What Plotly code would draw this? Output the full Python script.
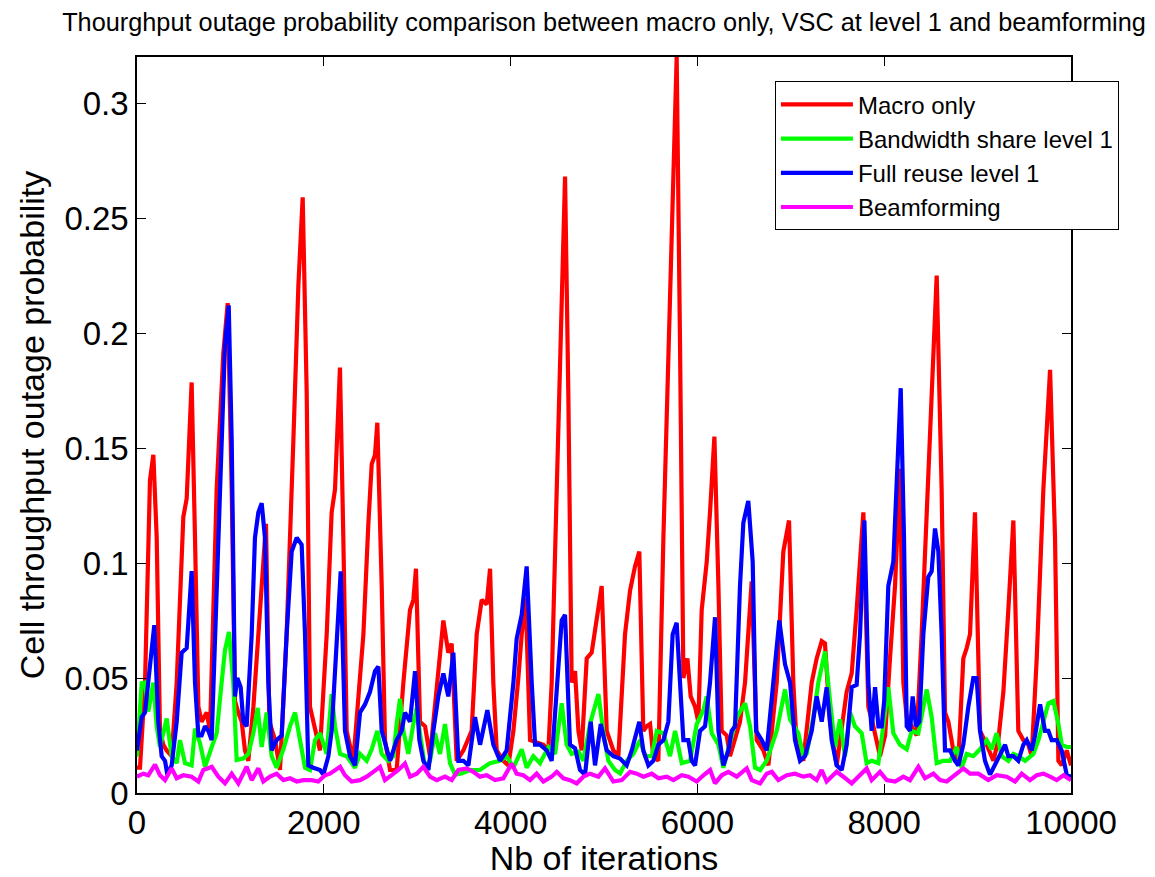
import plotly.graph_objects as go

# ---------------- data ----------------
macro_x = [0, 32, 86, 139, 175, 211, 246, 282, 318, 371, 425, 496, 532, 585, 621, 657, 692, 746, 782,
           853, 924, 971, 1014, 1049, 1085, 1121, 1156, 1192, 1246, 1317, 1381, 1417, 1478, 1531, 1602,
           1674, 1728, 1774, 1817, 1852, 1888, 1924, 1959, 2031, 2084, 2120, 2173, 2209, 2245, 2316,
           2424, 2477, 2513, 2548, 2573, 2620, 2655, 2709, 2780, 2852, 2923, 2959, 2987, 3030, 3084,
           3137, 3226, 3280, 3333, 3369, 3423, 3494, 3583, 3637, 3691, 3744, 3780, 3815, 3851, 3923,
           3976, 4030, 4083, 4119, 4161, 4208, 4279, 4351, 4404, 4440, 4494, 4547, 4583, 4618, 4654,
           4690, 4726, 4761, 4815, 4868, 4922, 4975, 5029, 5100, 5154, 5225, 5279, 5332, 5378, 5421,
           5457, 5493, 5528, 5582, 5636, 5689, 5743, 5778, 5814, 5850, 5893, 5928, 5975, 6010, 6046,
           6100, 6135, 6182, 6225, 6260, 6314, 6349, 6456, 6510, 6581, 6635, 6706, 6760, 6849, 6920,
           6981, 7027, 7063, 7134, 7224, 7277, 7331, 7366, 7420, 7491, 7598, 7652, 7705, 7777, 7830,
           7884, 7955, 8010, 8062, 8116, 8169, 8205, 8241, 8294, 8348, 8401, 8455, 8508, 8562, 8615,
           8651, 8687, 8740, 8794, 8847, 8883, 8919, 8972, 9026, 9097, 9169, 9222, 9276, 9329, 9383,
           9436, 9490, 9543, 9579, 9633, 9704, 9776, 9829, 9865, 9900, 9954, 10000]
macro_y = [0.011, 0.011, 0.048, 0.136, 0.147, 0.111, 0.027, 0.021, 0.0185, 0.016, 0.048, 0.12, 0.128,
           0.1785, 0.111, 0.0375, 0.031, 0.035, 0.027, 0.132, 0.191, 0.213, 0.132, 0.040, 0.035, 0.031,
           0.0185, 0.014, 0.0375, 0.0796, 0.117, 0.031, 0.023, 0.010, 0.069, 0.153, 0.221, 0.259, 0.174,
           0.0375, 0.031, 0.023, 0.0185, 0.069, 0.122, 0.132, 0.185, 0.111, 0.027, 0.014, 0.069, 0.117,
           0.143, 0.147, 0.161, 0.090, 0.023, 0.010, 0.010, 0.048, 0.0796, 0.084, 0.0975, 0.031, 0.029,
           0.016, 0.052, 0.075, 0.061, 0.065, 0.014, 0.0185, 0.027, 0.069, 0.084, 0.082, 0.0975, 0.048,
           0.0185, 0.014, 0.012, 0.027, 0.050, 0.069, 0.085, 0.023, 0.022, 0.021, 0.0185, 0.048, 0.132,
           0.216, 0.268, 0.174, 0.048, 0.053, 0.027, 0.0185, 0.0585, 0.061, 0.075, 0.090, 0.027, 0.0185,
           0.016, 0.069, 0.088, 0.0985, 0.105, 0.027, 0.029, 0.030, 0.016, 0.014, 0.111, 0.195, 0.28,
           0.32, 0.195, 0.050, 0.0585, 0.042, 0.0375, 0.031, 0.0796, 0.1006, 0.122, 0.155, 0.090, 0.027,
           0.025, 0.016, 0.031, 0.048, 0.092, 0.023, 0.0185, 0.012, 0.048, 0.105, 0.1185, 0.048, 0.021,
           0.014, 0.048, 0.0585, 0.066, 0.065, 0.031, 0.012, 0.044, 0.052, 0.0796, 0.122, 0.0375, 0.029,
           0.016, 0.025, 0.0585, 0.090, 0.141, 0.048, 0.033, 0.029, 0.025, 0.069, 0.122, 0.174, 0.225,
           0.132, 0.035, 0.031, 0.0185, 0.014, 0.0585, 0.063, 0.069, 0.122, 0.027, 0.021, 0.014, 0.023,
           0.044, 0.0796, 0.1185, 0.027, 0.023, 0.021, 0.016, 0.0585, 0.132, 0.184, 0.111, 0.014, 0.012,
           0.0185, 0.012]

bw_x = [0, 50, 86, 121, 175, 211, 246, 318, 371, 425, 460, 514, 585, 621, 675, 728, 800, 853, 906, 942,
        985, 1031, 1067, 1138, 1192, 1246, 1292, 1335, 1388, 1442, 1495, 1567, 1638, 1692, 1745, 1799,
        1852, 1906, 1959, 2031, 2084, 2120, 2174, 2245, 2334, 2388, 2459, 2513, 2573, 2620, 2691, 2745,
        2780, 2816, 2852, 2905, 2959, 2995, 3030, 3084, 3137, 3191, 3244, 3298, 3351, 3405, 3476, 3565,
        3672, 3779, 3886, 3958, 4030, 4119, 4172, 4244, 4315, 4405, 4476, 4547, 4600, 4654, 4726, 4779,
        4850, 4940, 4994, 5047, 5118, 5172, 5243, 5315, 5386, 5440, 5511, 5565, 5636, 5707, 5761, 5832,
        5921, 5993, 6064, 6100, 6154, 6225, 6278, 6350, 6421, 6510, 6564, 6617, 6671, 6742, 6849, 6938,
        6992, 7081, 7135, 7170, 7241, 7295, 7366, 7420, 7473, 7527, 7580, 7634, 7687, 7759, 7812, 7866,
        7937, 7990, 8044, 8098, 8169, 8241, 8294, 8365, 8419, 8455, 8508, 8562, 8633, 8705, 8776, 8829,
        8883, 8954, 9026, 9097, 9151, 9204, 9258, 9329, 9383, 9436, 9508, 9597, 9651, 9705, 9758, 9812,
        9865, 9901, 9954, 10000]
bw_y = [0.0158, 0.0477, 0.048, 0.0354, 0.048, 0.029, 0.020, 0.0324, 0.016, 0.013, 0.023, 0.013, 0.012,
        0.028, 0.0216, 0.0114, 0.020, 0.026, 0.048, 0.062, 0.070, 0.048, 0.0144, 0.015, 0.017, 0.026,
        0.037, 0.020, 0.035, 0.016, 0.011, 0.019, 0.029, 0.035, 0.023, 0.011, 0.010, 0.023, 0.026, 0.017,
        0.043, 0.029, 0.017, 0.016, 0.011, 0.017, 0.014, 0.019, 0.027, 0.017, 0.014, 0.016, 0.030, 0.041,
        0.027, 0.017, 0.030, 0.037, 0.026, 0.011, 0.014, 0.026, 0.017, 0.030, 0.013, 0.008, 0.0085, 0.010,
        0.010, 0.013, 0.014, 0.016, 0.011, 0.019, 0.011, 0.016, 0.013, 0.020, 0.017, 0.039, 0.021, 0.017,
        0.018, 0.014, 0.030, 0.043, 0.026, 0.014, 0.010, 0.0085, 0.014, 0.017, 0.023, 0.016, 0.016, 0.027,
        0.026, 0.016, 0.027, 0.013, 0.014, 0.030, 0.036, 0.042, 0.026, 0.021, 0.011, 0.023, 0.033, 0.039,
        0.029, 0.011, 0.010, 0.014, 0.027, 0.045, 0.032, 0.026, 0.016, 0.017, 0.033, 0.048, 0.0615, 0.040,
        0.020, 0.032, 0.016, 0.035, 0.029, 0.026, 0.013, 0.014, 0.013, 0.029, 0.046, 0.026, 0.021, 0.019,
        0.027, 0.026, 0.039, 0.045, 0.033, 0.013, 0.014, 0.014, 0.020, 0.011, 0.017, 0.016, 0.019, 0.023,
        0.019, 0.026, 0.016, 0.014, 0.017, 0.016, 0.014, 0.017, 0.023, 0.032, 0.039, 0.040, 0.030, 0.021,
        0.020, 0.020]

fr_x = [0, 50, 86, 121, 157, 185, 228, 264, 300, 325, 371, 425, 478, 532, 585, 621, 657, 692, 728, 764,
        799, 853, 906, 942, 982, 1014, 1049, 1074, 1110, 1138, 1174, 1228, 1263, 1299, 1335, 1370, 1406,
        1442, 1495, 1549, 1602, 1656, 1710, 1763, 1799, 1834, 1888, 1959, 1995, 2049, 2084, 2138, 2181,
        2227, 2281, 2334, 2388, 2441, 2495, 2548, 2584, 2620, 2673, 2709, 2780, 2834, 2869, 2923, 2977,
        3023, 3066, 3120, 3173, 3226, 3280, 3333, 3387, 3441, 3494, 3548, 3619, 3673, 3751, 3815, 3887,
        3958, 4030, 4065, 4119, 4172, 4226, 4262, 4315, 4387, 4440, 4494, 4547, 4583, 4636, 4690, 4743,
        4797, 4858, 4904, 4965, 5029, 5100, 5172, 5243, 5297, 5350, 5378, 5421, 5475, 5528, 5582, 5636,
        5689, 5735, 5778, 5814, 5850, 5903, 5939, 5975, 6028, 6082, 6135, 6189, 6225, 6278, 6332, 6367,
        6403, 6456, 6492, 6545, 6592, 6628, 6688, 6742, 6813, 6877, 6938, 6992, 7045, 7099, 7152, 7224,
        7277, 7331, 7384, 7438, 7491, 7545, 7598, 7652, 7705, 7741, 7788, 7830, 7866, 7902, 7938, 7973,
        8000, 8044, 8098, 8134, 8177, 8212, 8241, 8276, 8305, 8340, 8376, 8419, 8472, 8508, 8544, 8580,
        8615, 8651, 8705, 8758, 8794, 8847, 8901, 8954, 8990, 9026, 9079, 9133, 9186, 9240, 9294, 9329,
        9383, 9436, 9490, 9526, 9579, 9615, 9669, 9722, 9758, 9793, 9847, 9900, 9954, 10000]
fr_y = [0.0185, 0.033, 0.035, 0.048, 0.065, 0.073, 0.031, 0.016, 0.014, 0.008, 0.012, 0.031, 0.061,
        0.063, 0.0965, 0.048, 0.025, 0.025, 0.029, 0.027, 0.023, 0.090, 0.164, 0.195, 0.212, 0.153, 0.042,
        0.050, 0.046, 0.031, 0.029, 0.069, 0.111, 0.122, 0.126, 0.111, 0.048, 0.0185, 0.023, 0.025, 0.069,
        0.105, 0.111, 0.108, 0.069, 0.012, 0.011, 0.010, 0.008, 0.016, 0.027, 0.069, 0.0964, 0.027, 0.016,
        0.012, 0.035, 0.0385, 0.044, 0.053, 0.055, 0.027, 0.0185, 0.014, 0.023, 0.027, 0.035, 0.031, 0.053,
        0.023, 0.014, 0.010, 0.027, 0.042, 0.052, 0.042, 0.061, 0.014, 0.014, 0.012, 0.033, 0.021, 0.036,
        0.021, 0.014, 0.0185, 0.048, 0.067, 0.0775, 0.0985, 0.048, 0.021, 0.021, 0.0185, 0.014, 0.048,
        0.075, 0.0775, 0.021, 0.0195, 0.010, 0.008, 0.031, 0.012, 0.030, 0.0185, 0.016, 0.015, 0.012,
        0.0185, 0.027, 0.031, 0.0185, 0.012, 0.014, 0.021, 0.023, 0.031, 0.069, 0.074, 0.048, 0.023, 0.023,
        0.014, 0.012, 0.027, 0.029, 0.048, 0.0764, 0.027, 0.012, 0.0185, 0.027, 0.029, 0.090, 0.1175,
        0.127, 0.1006, 0.027, 0.023, 0.0185, 0.048, 0.075, 0.056, 0.048, 0.023, 0.014, 0.016, 0.027, 0.042,
        0.031, 0.046, 0.023, 0.012, 0.010, 0.021, 0.046, 0.047, 0.069, 0.1185, 0.048, 0.027, 0.046, 0.029,
        0.029, 0.040, 0.090, 0.1006, 0.132, 0.176, 0.111, 0.029, 0.027, 0.042, 0.029, 0.031, 0.069, 0.094,
        0.0964, 0.115, 0.105, 0.069, 0.0185, 0.0185, 0.014, 0.012, 0.021, 0.0375, 0.050, 0.050, 0.027,
        0.014, 0.008, 0.012, 0.016, 0.021, 0.016, 0.016, 0.014, 0.021, 0.023, 0.0185, 0.025, 0.0385, 0.027,
        0.027, 0.023, 0.023, 0.0185, 0.008, 0.007]

beam_x = [0, 68, 121, 193, 246, 300, 371, 425, 496, 585, 657, 710, 800, 871, 942, 1014, 1085, 1174, 1228,
          1299, 1353, 1424, 1495, 1567, 1638, 1710, 1781, 1870, 1941, 2013, 2066, 2174, 2227, 2298, 2388,
          2459, 2530, 2602, 2655, 2727, 2798, 2869, 2923, 2995, 3066, 3137, 3209, 3298, 3369, 3441, 3530,
          3601, 3672, 3744, 3833, 3922, 4012, 4065, 4136, 4208, 4279, 4351, 4440, 4494, 4565, 4636, 4708,
          4779, 4851, 4940, 5011, 5100, 5190, 5279, 5351, 5422, 5511, 5583, 5672, 5743, 5832, 5904, 5993,
          6064, 6136, 6189, 6260, 6332, 6421, 6528, 6582, 6671, 6742, 6796, 6867, 6956, 7045, 7135, 7206,
          7277, 7330, 7384, 7491, 7563, 7652, 7723, 7812, 7866, 7955, 8027, 8116, 8205, 8276, 8366, 8437,
          8527, 8598, 8669, 8741, 8848, 8919, 9008, 9115, 9204, 9312, 9401, 9472, 9561, 9633, 9704, 9776,
          9847, 9919, 10000]
beam_y = [0.0071, 0.0084, 0.0077, 0.0123, 0.0077, 0.0056, 0.0107, 0.0064, 0.0077, 0.0071, 0.005, 0.0100,
          0.0114, 0.0071, 0.0042, 0.0084, 0.0042, 0.0114, 0.0056, 0.0107, 0.0050, 0.0071, 0.0084, 0.0056,
          0.0064, 0.005, 0.0056, 0.0056, 0.005, 0.0077, 0.0084, 0.0114, 0.0077, 0.005, 0.0056, 0.0071,
          0.0092, 0.0114, 0.0056, 0.0077, 0.0100, 0.0128, 0.0071, 0.0084, 0.0114, 0.0071, 0.0056, 0.0071,
          0.0056, 0.0100, 0.0107, 0.0092, 0.0071, 0.0077, 0.0056, 0.0064, 0.0128, 0.0084, 0.0077, 0.0056,
          0.0084, 0.005, 0.0071, 0.0092, 0.0064, 0.0056, 0.0042, 0.0071, 0.0084, 0.0071, 0.0107, 0.005,
          0.0056, 0.0092, 0.0084, 0.0071, 0.0084, 0.0064, 0.0071, 0.0056, 0.0077, 0.0071, 0.005, 0.0077,
          0.0100, 0.0042, 0.0077, 0.0092, 0.0071, 0.0107, 0.0056, 0.0042, 0.0084, 0.0092, 0.0056, 0.0077,
          0.0084, 0.0071, 0.0077, 0.0056, 0.0100, 0.005, 0.0092, 0.0071, 0.0042, 0.0071, 0.0107, 0.0056,
          0.0092, 0.0056, 0.005, 0.0071, 0.0056, 0.0114, 0.0064, 0.0084, 0.0056, 0.005, 0.0071, 0.0107,
          0.0084, 0.0084, 0.0056, 0.0077, 0.0071, 0.005, 0.0084, 0.0056, 0.0077, 0.0084, 0.0071, 0.0056,
          0.0077, 0.0056]

series_names = ["Macro only", "Bandwidth share level 1", "Full reuse level 1", "Beamforming"]
series_colors = ["#ff0000", "#00ff00", "#0000ff", "#ff00ff"]

x_tick_vals = [0, 2000, 4000, 6000, 8000, 10000]
x_tick_text = ["0", "2000", "4000", "6000", "8000", "10000"]
y_tick_vals = [0, 0.05, 0.1, 0.15, 0.2, 0.25, 0.3]
y_tick_text = ["0", "0.05", "0.1", "0.15", "0.2", "0.25", "0.3"]

title_text = ("Thourghput outage probability comparison between macro only, "
              "VSC at level 1 and beamforming")
x_title = "Nb of iterations"
y_title = "Cell throughput outage probability"

# ---------------- figure ----------------
FONT = "Liberation Sans, Arial, Helvetica, sans-serif"

fig = go.Figure()
for xs, ys, name, color in zip([macro_x, bw_x, fr_x, beam_x],
                               [macro_y, bw_y, fr_y, beam_y],
                               series_names, series_colors):
    fig.add_trace(go.Scatter(x=xs, y=ys, mode="lines", name=name,
                             line=dict(color=color, width=4.2)))

axis_common = dict(showline=True, linecolor="black", linewidth=1.5, mirror="ticks",
                   ticks="inside", ticklen=9, tickwidth=1, tickcolor="black",
                   showgrid=False, zeroline=False, automargin=False,
                   tickfont=dict(family=FONT, size=33, color="black"))

# page body adds an 8 px offset, so the figure is 8 px smaller and margins shifted
fig.update_layout(
    template="none",
    width=1147, height=869,
    margin=dict(l=129, r=84, t=49, b=84),
    paper_bgcolor="white", plot_bgcolor="white",
    font=dict(family=FONT, color="black"),
    title=dict(text=title_text, x=0.5, xref="paper", xanchor="center",
               y=0.984, yref="container", yanchor="middle",
               font=dict(family=FONT, size=25.3, color="black")),
    xaxis=dict(range=[0, 10000], tickvals=x_tick_vals, ticktext=x_tick_text,
               title=dict(text=x_title, font=dict(family=FONT, size=34), standoff=3),
               **axis_common),
    yaxis=dict(range=[0, 0.32], tickvals=y_tick_vals, ticktext=y_tick_text,
               title=dict(text=y_title, font=dict(family=FONT, size=34), standoff=10),
               **axis_common),
    legend=dict(x=0.683, y=0.967, xanchor="left", yanchor="top",
                bgcolor="white", bordercolor="black", borderwidth=1,
                font=dict(family=FONT, size=24, color="black"),
                tracegroupgap=0, itemwidth=72),
    showlegend=True,
)

fig.write_html("out.html")
